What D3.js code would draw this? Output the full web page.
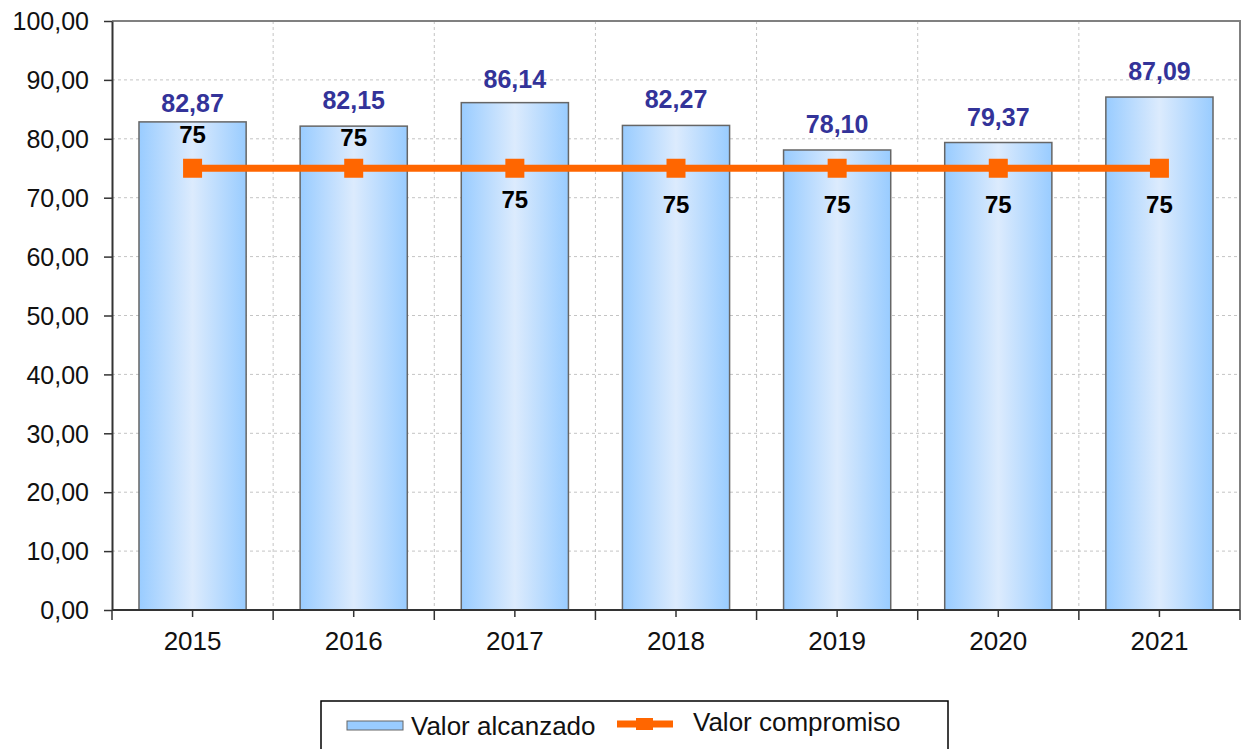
<!DOCTYPE html>
<html>
<head>
<meta charset="utf-8">
<script src="https://cdn.jsdelivr.net/npm/d3@7"></script>
<style>
  body { margin: 0; background: #fff; }
  svg text { font-family: Arial, "Liberation Sans", sans-serif; }
</style>
</head>
<body>
<div id="chart"></div>
<script>
// chart data
var years = ["2015", "2016", "2017", "2018", "2019", "2020", "2021"];
var alcanzado = [82.87, 82.15, 86.14, 82.27, 78.10, 79.37, 87.09];
var compromiso = [75, 75, 75, 75, 75, 75, 75];
var yTicks = [0, 10, 20, 30, 40, 50, 60, 70, 80, 90, 100];
var seriesNames = ["Valor alcanzado", "Valor compromiso"];

// label placement (px): gap above each bar, and "75" offset from the line
var alcanzadoLabelGap = [10, 17, 15, 17, 17, 17, 17];
var compromisoLabelDy = [-25, -22, 40, 45, 45, 45, 45];

var width = 1241, height = 749;
// plot box ('top' is taken by window.top, so use other names)
var plotL = 112, plotR = 1240, plotT = 21, plotB = 610;

var svg = d3.select("#chart").append("svg")
  .attr("width", width)
  .attr("height", height);

var defs = svg.append("defs");
var grad = defs.append("linearGradient")
  .attr("id", "barGrad")
  .attr("x1", "0%").attr("x2", "100%").attr("y1", "0%").attr("y2", "0%");
grad.append("stop").attr("offset", "0%").attr("stop-color", "#99ccff");
grad.append("stop").attr("offset", "50%").attr("stop-color", "#dcebfd");
grad.append("stop").attr("offset", "100%").attr("stop-color", "#99ccff");

var x = d3.scaleBand().domain(years).range([plotL, plotR]).paddingInner(0.335).paddingOuter(0.1675);
var xb = d3.scaleBand().domain(years).range([plotL, plotR]);
var y = d3.scaleLinear().domain([0, 100]).range([plotB, plotT]);

var fmt = function (v) { return d3.format(".2f")(v).replace(".", ","); };

// grid
svg.append("g").selectAll("line.h")
  .data(yTicks.filter(function (d) { return d > 0 && d < 100; }))
  .enter().append("line")
  .attr("x1", plotL).attr("x2", plotR)
  .attr("y1", function (d) { return y(d); })
  .attr("y2", function (d) { return y(d); })
  .attr("stroke", "#c4c4c4").attr("stroke-dasharray", "3,3");

svg.append("g").selectAll("line.v")
  .data(years.slice(1))
  .enter().append("line")
  .attr("x1", function (d) { return xb(d); })
  .attr("x2", function (d) { return xb(d); })
  .attr("y1", plotT).attr("y2", plotB)
  .attr("stroke", "#c4c4c4").attr("stroke-dasharray", "3,3");

// plot border (top & right)
svg.append("path")
  .attr("d", "M" + plotL + "," + plotT + "H" + plotR + "V" + plotB)
  .attr("fill", "none").attr("stroke", "#808080").attr("stroke-width", 2);

// bars
svg.append("g").selectAll("rect")
  .data(alcanzado)
  .enter().append("rect")
  .attr("x", function (d, i) { return x(years[i]); })
  .attr("y", function (d) { return y(d); })
  .attr("width", x.bandwidth())
  .attr("height", function (d) { return plotB - y(d); })
  .attr("fill", "url(#barGrad)")
  .attr("stroke", "#666").attr("stroke-width", 1.5);

// bar value labels
svg.append("g").selectAll("text")
  .data(alcanzado)
  .enter().append("text")
  .attr("x", function (d, i) { return x(years[i]) + x.bandwidth() / 2; })
  .attr("y", function (d, i) { return y(d) - alcanzadoLabelGap[i]; })
  .attr("text-anchor", "middle")
  .attr("font-size", "25px").attr("font-weight", "bold")
  .attr("fill", "#333399")
  .text(fmt);

// axes
var yAxis = d3.axisLeft(y).tickValues(yTicks).tickFormat(fmt).tickSize(8).tickSizeOuter(0);
var gy = svg.append("g").attr("transform", "translate(" + plotL + ",0)").call(yAxis);
gy.select(".domain").attr("stroke", "#333").attr("stroke-width", 2);
gy.selectAll(".tick line").attr("stroke", "#333").attr("stroke-width", 1.5);
gy.selectAll(".tick text").attr("font-size", "25px").attr("fill", "#111").attr("x", -23).attr("dy", "0.35em");

var gx = svg.append("g").attr("transform", "translate(0," + plotB + ")");
gx.append("line").attr("x1", plotL).attr("x2", plotR).attr("stroke", "#333").attr("stroke-width", 2);
gx.selectAll("line.major")
  .data(years.concat(["end"]))
  .enter().append("line")
  .attr("x1", function (d, i) { return i < years.length ? xb(d) : plotR; })
  .attr("x2", function (d, i) { return i < years.length ? xb(d) : plotR; })
  .attr("y1", 0).attr("y2", 10)
  .attr("stroke", "#333").attr("stroke-width", 1.5);
gx.selectAll("line.minor")
  .data(years)
  .enter().append("line")
  .attr("x1", function (d) { return xb(d) + xb.bandwidth() / 2; })
  .attr("x2", function (d) { return xb(d) + xb.bandwidth() / 2; })
  .attr("y1", 0).attr("y2", 7)
  .attr("stroke", "#333").attr("stroke-width", 1.5);
gx.selectAll("text")
  .data(years)
  .enter().append("text")
  .attr("x", function (d) { return xb(d) + xb.bandwidth() / 2; })
  .attr("y", 40)
  .attr("text-anchor", "middle")
  .attr("font-size", "26px").attr("fill", "#111")
  .text(function (d) { return d; });

// compromiso line
var cx = function (d, i) { return xb(years[i]) + xb.bandwidth() / 2; };
var line = d3.line().x(cx).y(function (d) { return y(d); });
svg.append("path")
  .datum(compromiso)
  .attr("d", line)
  .attr("fill", "none").attr("stroke", "#ff6600").attr("stroke-width", 7);

svg.append("g").selectAll("rect")
  .data(compromiso)
  .enter().append("rect")
  .attr("x", function (d, i) { return cx(d, i) - 9.5; })
  .attr("y", function (d) { return y(d) - 9.5; })
  .attr("width", 19).attr("height", 19)
  .attr("fill", "#ff6600");

svg.append("g").selectAll("text")
  .data(compromiso)
  .enter().append("text")
  .attr("x", cx)
  .attr("y", function (d, i) { return y(d) + compromisoLabelDy[i]; })
  .attr("text-anchor", "middle")
  .attr("font-size", "24px").attr("font-weight", "bold")
  .attr("fill", "#000")
  .text(function (d) { return d; });

// legend
var lg = svg.append("g");
lg.append("rect")
  .attr("x", 321).attr("y", 701).attr("width", 627).attr("height", 60)
  .attr("fill", "#fff").attr("stroke", "#000").attr("stroke-width", 1.5);
lg.append("rect")
  .attr("x", 347).attr("y", 721).attr("width", 56).attr("height", 9)
  .attr("fill", "#99ccff").attr("stroke", "#666").attr("stroke-width", 1);
lg.append("text")
  .attr("x", 411).attr("y", 735)
  .attr("font-size", "26px").attr("fill", "#111")
  .text(seriesNames[0]);
lg.append("line")
  .attr("x1", 617).attr("x2", 673).attr("y1", 724).attr("y2", 724)
  .attr("stroke", "#ff6600").attr("stroke-width", 7);
lg.append("rect")
  .attr("x", 636).attr("y", 718).attr("width", 17).attr("height", 12)
  .attr("fill", "#ff6600");
lg.append("text")
  .attr("x", 693).attr("y", 731)
  .attr("font-size", "26px").attr("fill", "#111")
  .text(seriesNames[1]);
</script>
</body>
</html>
